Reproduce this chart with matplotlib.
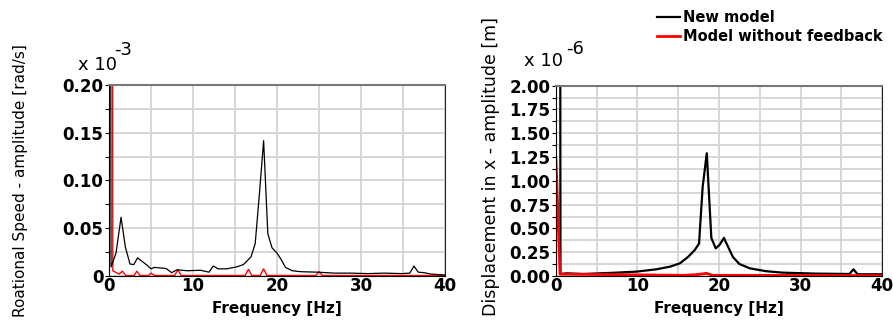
import numpy as np
import matplotlib
matplotlib.use('Agg')
from matplotlib import pyplot as plt
from matplotlib.ticker import MultipleLocator, FixedLocator

# left plot: rotational speed amplitude (x 1e-3 rad/s)
f_speed_new = [0.1, 0.24, 0.83, 1.43, 1.95, 2.5, 2.95, 3.4, 4.5, 5.0, 5.4, 6.8, 7.45, 8.1, 9.3,
               10.9, 11.9, 12.4, 13.0, 14.0, 15.2, 16.0, 16.9, 17.4, 17.9, 18.4, 18.9, 19.4,
               20.0, 20.5, 21.0, 21.8, 22.8, 24.8, 26.8, 28.8, 30.8, 32.8, 34.8, 35.8, 36.3,
               36.8, 37.5, 38.3, 40.0]
speed_new = [1.0, 0.0094, 0.024, 0.0615, 0.030, 0.0125, 0.012, 0.019, 0.0115, 0.0075, 0.009,
             0.0078, 0.0035, 0.0065, 0.0055, 0.006, 0.004, 0.0104, 0.0075, 0.0075, 0.0095,
             0.012, 0.020, 0.034, 0.086, 0.1417, 0.0444, 0.0295, 0.024, 0.017, 0.009, 0.0055,
             0.0045, 0.004, 0.003, 0.003, 0.0025, 0.003, 0.0025, 0.003, 0.0104, 0.004, 0.0035,
             0.002, 0.001]
f_speed_old = [0.35, 0.45, 1.2, 1.6, 2.0, 3.0, 3.3, 3.7, 4.7, 5.0, 5.4, 7.8, 8.2, 8.6, 16.2,
               16.6, 17.0, 18.0, 18.4, 18.8, 24.6, 25.0, 25.4, 40.0]
speed_old = [1.0, 0.0055, 0.002, 0.005, 0.0005, 0.0005, 0.005, 0.0005, 0.0005, 0.003, 0.0005,
             0.0005, 0.0065, 0.0005, 0.0005, 0.007, 0.0005, 0.0005, 0.0075, 0.0005, 0.0005,
             0.0045, 0.0005, 0.0005]

# right plot: displacement amplitude (x 1e-6 m)
f_disp_new = [0.5, 0.55, 1.3, 3.3, 7.4, 9.9, 12.3, 14.0, 15.2, 16.2, 17.0, 17.55, 18.0, 18.5,
              19.06, 19.6, 20.1, 20.6, 21.1, 21.7, 22.5, 23.8, 25.8, 27.8, 31.9, 36.0, 36.5,
              37.0, 40.0]
disp_new = [5.0, 0.02, 0.028, 0.021, 0.035, 0.046, 0.07, 0.098, 0.133, 0.2, 0.27, 0.34, 0.94,
            1.29, 0.40, 0.29, 0.33, 0.40, 0.31, 0.2, 0.126, 0.08, 0.05, 0.035, 0.025, 0.021,
            0.07, 0.018, 0.018]
f_disp_old = [0.0, 0.5, 15.6, 17.2, 18.5, 19.2, 40.0]
disp_old = [1.22, 0.02, 0.007, 0.014, 0.028, 0.007, 0.004]

fig = plt.figure(figsize=(8.93, 3.31), dpi=100)
ax1 = fig.add_axes([0.1221, 0.1662, 0.3763, 0.577])
ax2 = fig.add_axes([0.6226, 0.1662, 0.3651, 0.575])


def style(ax, ymax, ymajor, yminor, labels):
    ax.set_xlim(0, 40)
    ax.set_ylim(0, ymax)
    ax.xaxis.set_major_locator(MultipleLocator(10))
    ax.xaxis.set_minor_locator(MultipleLocator(5))
    ax.yaxis.set_major_locator(FixedLocator(np.arange(0, ymax + 1e-9, ymajor)))
    ax.set_yticklabels(labels)
    ax.yaxis.set_minor_locator(MultipleLocator(yminor))
    ax.grid(which='both', color='#d4d4d4', lw=1.3)
    ax.set_axisbelow(True)
    ax.tick_params(which='both', length=3, width=0.8, pad=1)
    ax.tick_params(axis='x', which='both', length=0)
    for lab in ax.get_xticklabels() + ax.get_yticklabels():
        lab.set_fontweight('bold')
        lab.set_fontsize(12)
    ax.spines['top'].set_color('#777777')
    ax.spines['top'].set_linewidth(1.5)
    ax.spines['right'].set_color('#222222')
    ax.set_xlabel('Frequency [Hz]', fontsize=11, fontweight='bold', labelpad=4)


ax1.plot(f_speed_old, speed_old, color='red', lw=1)
ax1.plot(f_speed_new, speed_new, color='black', lw=0.9)
style(ax1, 0.2, 0.05, 0.025, ['0', '0.05', '0.10', '0.15', '0.20'])
ax1.set_ylabel('Roational Speed - amplitude [rad/s]', fontsize=11)
ax1.yaxis.set_label_coords(-0.241, 0.5)

l1, = ax2.plot(f_disp_new, disp_new, color='black', lw=1.6)
l2, = ax2.plot(f_disp_old, disp_old, color='red', lw=2)
style(ax2, 2.0, 0.25, 0.125, ['%.2f' % v for v in np.arange(0, 2.01, 0.25)])
ax2.set_ylabel('Displacement in x - amplitude [m]', fontsize=12.5)
ax2.yaxis.set_label_coords(-0.172, 0.575)

fig.text(78 / 893, 1 - 70 / 331, 'x 10', fontsize=13)
fig.text(114 / 893, 1 - 55 / 331, '-3', fontsize=13)
fig.text(524 / 893, 1 - 66 / 331, 'x 10', fontsize=13)
fig.text(566 / 893, 1 - 54 / 331, '-6', fontsize=13)

fig.legend([l1, l2], ['New model', 'Model without feedback'], loc='upper right',
           bbox_to_anchor=(1.0, 1.0), frameon=False, prop={'size': 10.5, 'weight': 'bold'},
           handlelength=1.6, handletextpad=0.2, labelspacing=0.25, borderaxespad=0.3)

fig.savefig('out.png', dpi=100)
